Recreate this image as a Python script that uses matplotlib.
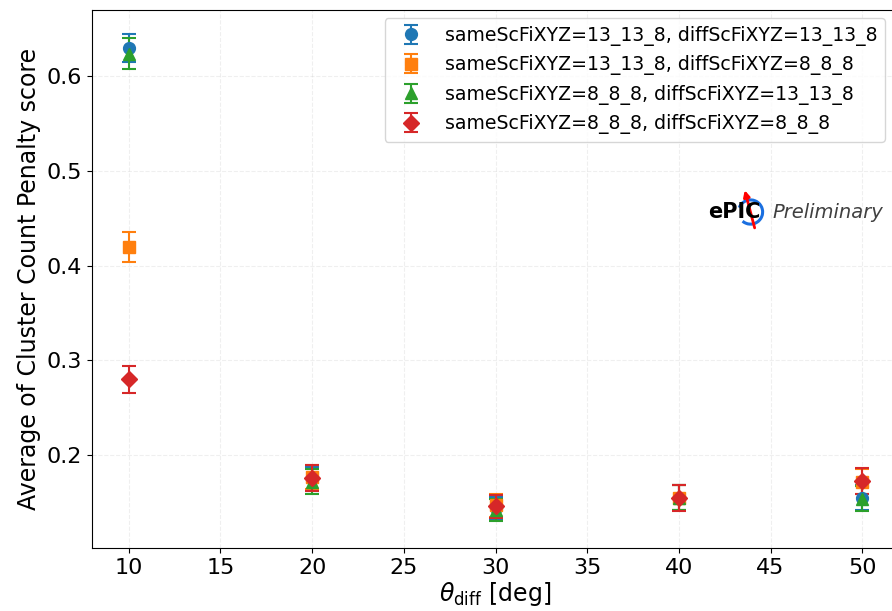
import numpy as np
import matplotlib
matplotlib.use("Agg")
import matplotlib.pyplot as plt
from matplotlib.patches import Arc, FancyArrowPatch

# Data
theta = [10, 20, 30, 40, 50]
labels = [
    "sameScFiXYZ=13_13_8, diffScFiXYZ=13_13_8",
    "sameScFiXYZ=13_13_8, diffScFiXYZ=8_8_8",
    "sameScFiXYZ=8_8_8, diffScFiXYZ=13_13_8",
    "sameScFiXYZ=8_8_8, diffScFiXYZ=8_8_8",
]
same13_diff13 = [0.630, 0.175, 0.144, 0.155, 0.155]
same13_diff13_err = [0.015, 0.013, 0.012, 0.013, 0.013]
same13_diff8 = [0.420, 0.177, 0.147, 0.155, 0.172]
same13_diff8_err = [0.016, 0.013, 0.012, 0.013, 0.013]
same8_diff13 = [0.624, 0.172, 0.142, 0.155, 0.154]
same8_diff13_err = [0.016, 0.013, 0.012, 0.013, 0.013]
same8_diff8 = [0.280, 0.176, 0.146, 0.155, 0.173]
same8_diff8_err = [0.0145, 0.0135, 0.012, 0.0135, 0.0135]

series = [same13_diff13, same13_diff8, same8_diff13, same8_diff8]
errors = [same13_diff13_err, same13_diff8_err, same8_diff13_err, same8_diff8_err]
markers = ["o", "s", "^", "D"]
colors = ["#1f77b4", "#ff7f0e", "#2ca02c", "#d62728"]

fig = plt.figure(figsize=(8.92, 6.11), dpi=100)
ax = fig.add_axes([92 / 892, 63 / 611, 807 / 892, 538 / 611])

for y, e, m, c, lab in zip(series, errors, markers, colors, labels):
    ax.errorbar(theta, y, yerr=e, fmt=m, color=c, markersize=8.5,
                capsize=5, elinewidth=1.5, capthick=1.5, label=lab)

ax.set_xlim(8, 52)
ax.set_ylim(0.102, 0.670)
ax.set_xticks(np.arange(10, 51, 5))
ax.set_yticks([0.2, 0.3, 0.4, 0.5, 0.6])
ax.tick_params(labelsize=16)
ax.grid(True, linestyle="--", linewidth=0.8, alpha=0.2)
ax.set_xlabel(r"$\theta_{\rm diff}$ [deg]", fontsize=17, labelpad=2)
ax.set_ylabel("Average of Cluster Count Penalty score", fontsize=17)

leg = ax.legend(loc="upper right", fontsize=13.6, bbox_to_anchor=(0.99, 0.995),
                borderaxespad=0.3)

# ePIC Preliminary mark
ax.text(0.843, 0.6245, "Preliminary", transform=ax.transAxes, fontsize=14,
        style="italic", ha="left", va="center", color="#404040")
ax.text(0.828, 0.6245, "ePIC", transform=ax.transAxes, fontsize=15,
        fontweight="bold", ha="right", va="center", color="black")
ax.add_patch(Arc((0.816, 0.6245), 0.030, 0.045, theta1=-120, theta2=150,
                 transform=ax.transAxes, color="#1a6fe0", lw=2.2))
ax.add_patch(FancyArrowPatch((0.822, 0.59), (0.808, 0.67),
                             transform=ax.transAxes, color="red", lw=2,
                             arrowstyle="-|>", mutation_scale=9))

fig.savefig("out.png", dpi=100)
